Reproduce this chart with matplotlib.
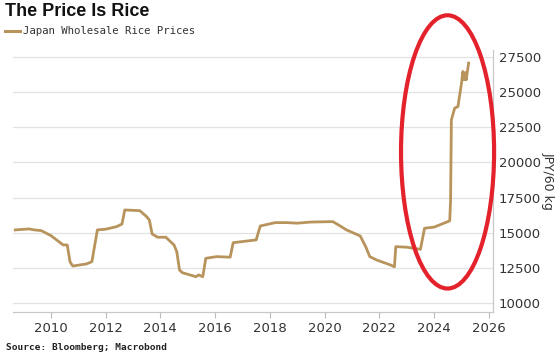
import matplotlib.pyplot as plt
from matplotlib.patches import Ellipse
import numpy as np

# Japan wholesale rice prices, JPY per 60 kg
years = [2008.7, 2009.2, 2009.4, 2009.65, 2010.0, 2010.45, 2010.6, 2010.7, 2010.8, 2011.3, 2011.5,
         2011.7, 2012.0, 2012.4, 2012.6, 2012.7, 2013.25, 2013.5, 2013.6, 2013.7, 2013.9,
         2014.2, 2014.5, 2014.6, 2014.7, 2014.8, 2015.3, 2015.4, 2015.55, 2015.66,
         2016.05, 2016.55, 2016.66, 2017.5, 2017.65, 2018.2, 2018.6, 2019.0, 2019.5,
         2020.3, 2020.6, 2020.8, 2021.3, 2021.5, 2021.65, 2021.9, 2022.4, 2022.55,
         2022.6, 2023.0, 2023.5, 2023.65, 2024.0, 2024.45, 2024.57, 2024.6, 2024.63,
         2024.75, 2024.87, 2025.0, 2025.05, 2025.1, 2025.15, 2025.17, 2025.26]
prices = [15200, 15270, 15200, 15150, 14800, 14130, 14130, 12940, 12630, 12780, 12940,
          15200, 15250, 15430, 15620, 16620, 16570, 16140, 15900, 14910, 14680,
          14680, 14130, 13650, 12350, 12160, 11870, 12000, 11870, 13180,
          13300, 13260, 14290, 14490, 15480, 15720, 15720, 15680, 15760,
          15790, 15440, 15200, 14770, 14010, 13300, 13060, 12710, 12580,
          14010, 13970, 13820, 15320, 15400, 15750, 15850, 17300, 23030,
          23860, 23980, 25640, 26470, 25880, 26400, 25880, 27070]

yticks = [10000, 12500, 15000, 17500, 20000, 22500, 25000, 27500]
xticks = [2010, 2012, 2014, 2016, 2018, 2020, 2022, 2024, 2026]

line_col = '#b8945c'
text_col = '#333333'

fig = plt.figure(figsize=(5.6, 3.58), dpi=100)
ax = fig.add_axes([12.5 / 560, 1 - 312 / 358, (493 - 12.5) / 560, (312 - 50) / 358])

ax.plot(years, prices, color=line_col, lw=2.0, solid_joinstyle='round')

ax.set_xlim(2008.6, 2026.15)
ax.set_ylim(9360, 28000)
ax.set_xticks(xticks)
ax.set_yticks(yticks)
ax.yaxis.tick_right()
ax.yaxis.set_label_position('right')
ax.tick_params(axis='y', length=0, pad=4, labelsize=9.5, labelcolor=text_col)
ax.tick_params(axis='x', length=4, color='#bbbbbb', pad=3, labelsize=9.5,
               labelcolor=text_col)
ax.grid(axis='y', color='#e2e2e2', lw=0.9)
ax.set_axisbelow(True)
for side in ['top', 'left']:
    ax.spines[side].set_visible(False)
for side in ['right', 'bottom']:
    ax.spines[side].set_color('#c8c8c8')
    ax.spines[side].set_linewidth(0.9)
ax.set_ylabel('JPY/60 kg', rotation=270, labelpad=10, fontsize=9, color=text_col)

# red highlight ring round the recent jump
ring = Ellipse((2024.49, 20750), 3.4, 19440, fill=False, ec='#e3222b', lw=3.0,
               clip_on=False, zorder=5)
ax.add_patch(ring)

fig.text(5 / 560, 1 - 12 / 358, 'The Price Is Rice', fontsize=13,
         family='Liberation Sans', fontweight='bold', color='#111111',
         va='center', ha='left')
fig.lines.append(plt.Line2D([5 / 560, 20 / 560], [1 - 31 / 358, 1 - 31 / 358],
                            transform=fig.transFigure, color=line_col, lw=2.2))
fig.text(23 / 560, 1 - 31 / 358, 'Japan Wholesale Rice Prices', fontsize=7.7,
         family='DejaVu Sans Mono', color=text_col, va='center', ha='left')
fig.text(6 / 560, 1 - 348 / 358, 'Source: Bloomberg; Macrobond', fontsize=6.8,
         family='DejaVu Sans Mono', fontweight='bold', color='#222222',
         va='center', ha='left')

fig.savefig('out.png', dpi=100)
